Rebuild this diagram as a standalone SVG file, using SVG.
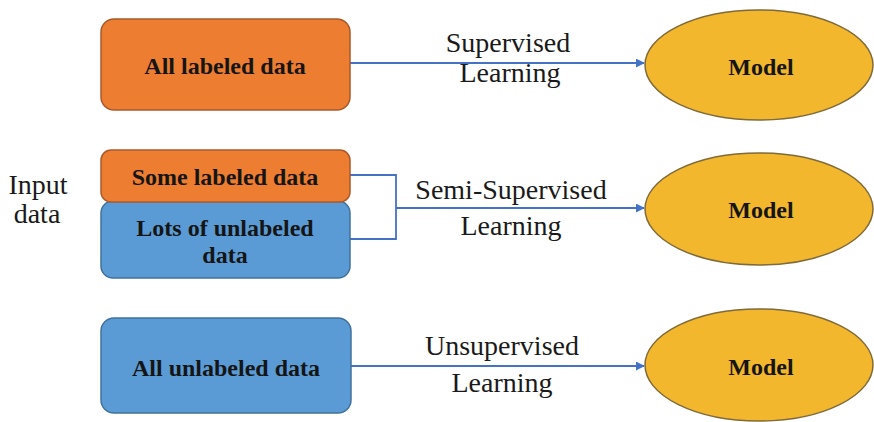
<svg xmlns="http://www.w3.org/2000/svg" width="874" height="422" viewBox="0 0 874 422">
<defs>
<style>
.orange{fill:#ED7D31;stroke:#A9592A;stroke-width:1.5}
.blue{fill:#5B9BD5;stroke:#41719C;stroke-width:1.5}
.model{fill:#F2B72C;stroke:#7F6A3A;stroke-width:1.5}
.bold{font-weight:bold;font-size:24px;fill:#151515;text-anchor:middle}
.lab{font-size:28px;fill:#1a1a1a;text-anchor:middle}
.conn{fill:none;stroke:#4472C4;stroke-width:1.8}
</style>
<marker id="arr" viewBox="0 0 10 10" refX="9" refY="5" markerWidth="5" markerHeight="5" orient="auto" markerUnits="strokeWidth">
<path d="M0,0 L10,5 L0,10 z" fill="#4472C4"/>
</marker>
</defs>
<rect width="874" height="422" fill="#ffffff"/>
<g font-family="Liberation Serif, Tinos, DejaVu Serif, Noto Serif, Times New Roman, serif">
<g id="input-label">
<text class="lab" x="38" y="194">Input</text>
<text class="lab" x="37" y="223">data</text>
</g>

<g id="connectors">
<line class="conn" x1="350" y1="63" x2="644" y2="63" marker-end="url(#arr)"/>
<path class="conn" d="M350,175 H396 V239 H350"/>
<line class="conn" x1="396" y1="208" x2="644" y2="208" marker-end="url(#arr)"/>
<line class="conn" x1="351" y1="366" x2="644" y2="366" marker-end="url(#arr)"/>
</g>

<g id="edge-labels">
<text class="lab" x="508" y="52">Supervised</text>
<text class="lab" x="510" y="82">Learning</text>
<text class="lab" x="511" y="199">Semi-Supervised</text>
<text class="lab" x="511" y="235">Learning</text>
<text class="lab" x="502" y="355">Unsupervised</text>
<text class="lab" x="502" y="392">Learning</text>
</g>

<g id="all-labeled">
<rect class="orange" x="101" y="19" width="249" height="91" rx="13"/>
<text class="bold" x="225" y="74">All labeled data</text>
</g>

<g id="lots-unlabeled">
<rect class="blue" x="101" y="201" width="249" height="77" rx="12"/>
<text class="bold" x="225" y="236">Lots of unlabeled</text>
<text class="bold" x="225" y="263">data</text>
</g>

<g id="some-labeled">
<rect class="orange" x="101" y="150" width="249" height="52" rx="10"/>
<text class="bold" x="225" y="185">Some labeled data</text>
</g>

<g id="all-unlabeled">
<rect class="blue" x="101" y="318" width="250" height="95" rx="13"/>
<text class="bold" x="226" y="376">All unlabeled data</text>
</g>

<g id="model-1">
<ellipse class="model" cx="759" cy="65" rx="114" ry="55"/>
<text class="bold" x="761" y="75">Model</text>
</g>

<g id="model-2">
<ellipse class="model" cx="759" cy="209" rx="114" ry="56"/>
<text class="bold" x="761" y="218">Model</text>
</g>

<g id="model-3">
<ellipse class="model" cx="759" cy="365" rx="114" ry="56"/>
<text class="bold" x="761" y="375">Model</text>
</g>
</g>
</svg>
